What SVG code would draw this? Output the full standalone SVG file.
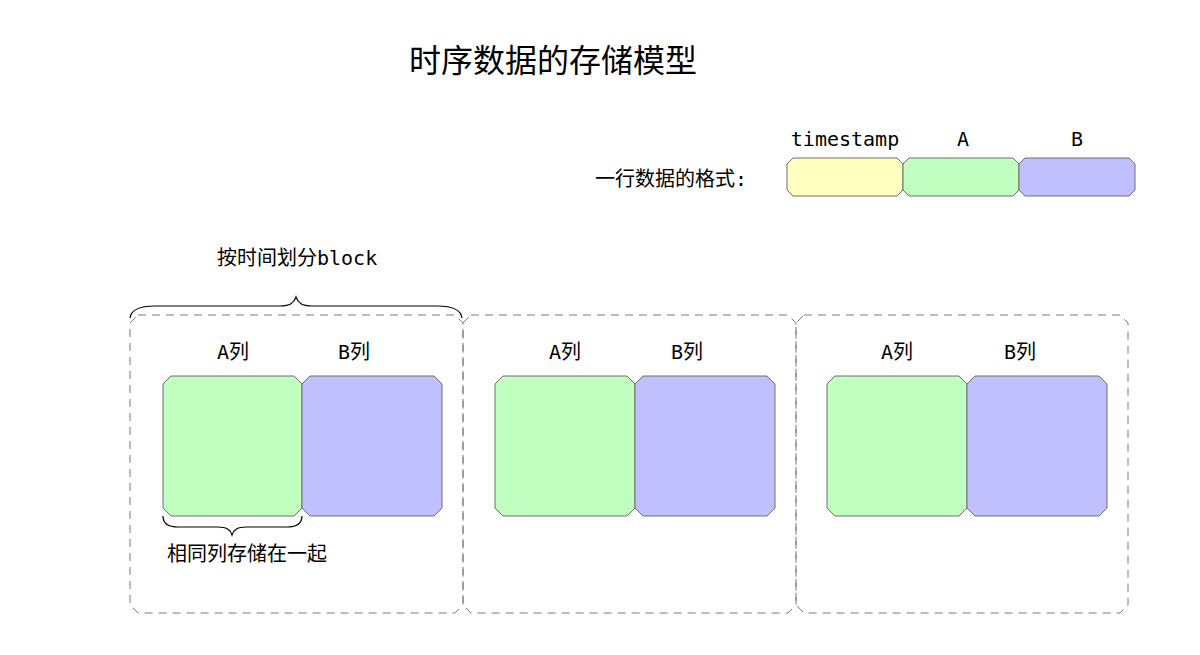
<svg xmlns="http://www.w3.org/2000/svg" width="1200" height="655" viewBox="0 0 1200 655">
<style>
text{font-family:"DejaVu Sans Mono","Noto Sans CJK SC",monospace;font-size:20px;fill:#000}
.title{font-family:"Noto Sans CJK SC",sans-serif;font-size:32px}
.m{text-anchor:middle}
.cell{stroke:#6e6e6e;stroke-width:1}
.y{fill:#FFFFC0}.g{fill:#C0FFC0}.b{fill:#C0C0FF}
.blk{fill:none;stroke:#7a7a7a;stroke-width:1;stroke-dasharray:8 6}
.brace{fill:none;stroke:#000;stroke-width:1.2}
</style>
<rect width="1200" height="655" fill="#fff"/>
<text class="title m" x="553" y="72">时序数据的存储模型</text>
<g id="legend">
<text x="595" y="186">一行数据的格式:</text>
<text class="m" x="845" y="146">timestamp</text>
<text class="m" x="963" y="146">A</text>
<text class="m" x="1077" y="146">B</text>
<path class="cell y" d="M793,158 H897 L903,164 V190 L897,196 H793 L787,190 V164 Z"/>
<path class="cell g" d="M909,158 H1013 L1019,164 V190 L1013,196 H909 L903,190 V164 Z"/>
<path class="cell b" d="M1025,158 H1129 L1135,164 V190 L1129,196 H1025 L1019,190 V164 Z"/>
</g>
<g id="block1">
<path class="blk" d="M138,315 H455 L463,323 V605 L455,613 H138 L130,605 V323 Z"/>
<text class="m" x="233" y="359">A列</text>
<text class="m" x="354" y="359">B列</text>
<path class="cell g" d="M171,376 H294 L302,384 V508 L294,516 H171 L163,508 V384 Z"/>
<path class="cell b" d="M310,376 H434 L442,384 V508 L434,516 H310 L302,508 V384 Z"/>
</g>
<g id="block2">
<path class="blk" d="M471,315 H788 L796,323 V605 L788,613 H471 L463,605 V323 Z"/>
<text class="m" x="565" y="359">A列</text>
<text class="m" x="687" y="359">B列</text>
<path class="cell g" d="M503,376 H627 L635,384 V508 L627,516 H503 L495,508 V384 Z"/>
<path class="cell b" d="M643,376 H767 L775,384 V508 L767,516 H643 L635,508 V384 Z"/>
</g>
<g id="block3">
<path class="blk" d="M804,315 H1120 L1128,323 V605 L1120,613 H804 L796,605 V323 Z"/>
<text class="m" x="897" y="359">A列</text>
<text class="m" x="1020" y="359">B列</text>
<path class="cell g" d="M835,376 H959 L967,384 V508 L959,516 H835 L827,508 V384 Z"/>
<path class="cell b" d="M975,376 H1099 L1107,384 V508 L1099,516 H975 L967,508 V384 Z"/>
</g>
<g id="annotations">
<text x="217" y="265">按时间划分block</text>
<path class="brace" d="M130,318 C131,310 140,306 155,306 L280,306 C290,306 294,303 296,297 C298,303 302,306 312,306 L437,306 C452,306 461,310 462,318"/>
<path class="brace" d="M163,516 C163,523 168,527 178,527 L218,527 C226,527 230,529 232,535 C234,529 238,527 246,527 L287,527 C297,527 302,523 302,516"/>
<text x="167" y="561">相同列存储在一起</text>
</g>
</svg>
